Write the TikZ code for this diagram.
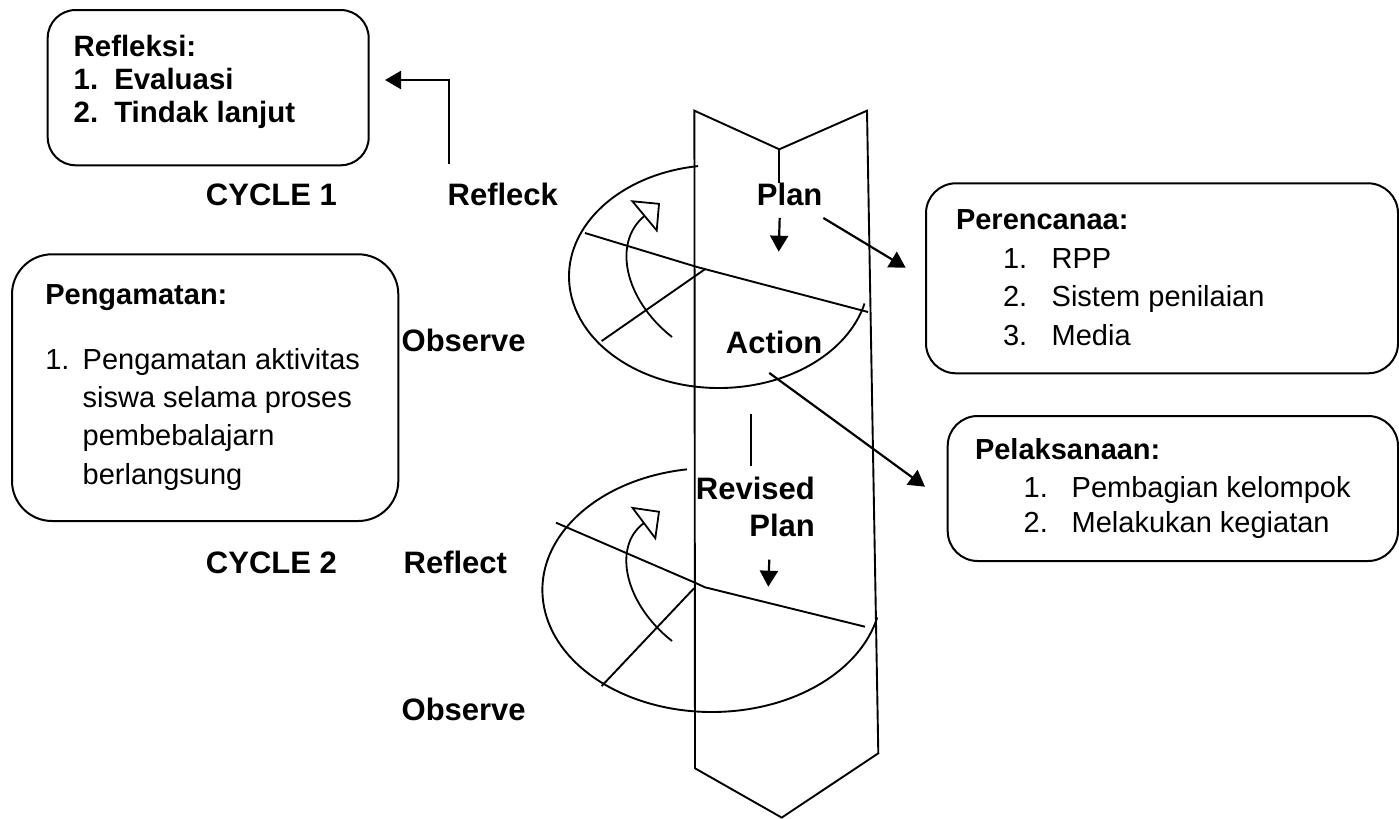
\documentclass[tikz,border=0pt]{standalone}
\usepackage{fontspec}
\setmainfont{Liberation Sans}
\usetikzlibrary{arrows.meta}

\tikzset{
  lbl/.style={font=\fontsize{15.5pt}{18pt}\selectfont\bfseries, inner sep=0pt, anchor=base west},
  roundbox/.style={draw, line width=1pt, rounded corners=#1, anchor=north west, inner ysep=0pt},
  headarrow/.style={line width=1.1pt, -{Triangle[length=8pt,width=9pt]}},
  openhead/.style={line width=0.9pt, -{Triangle[open,length=10.5pt,width=21pt]}},
}

\begin{document}
\begin{tikzpicture}[line width=0.95pt]
    \useasboundingbox (0pt,0pt) rectangle (699.5pt,-409.5pt);
    % column
    \draw (347.2pt,-55.35pt) -- (389.65pt,-74.65pt) -- (433.5pt,-55.35pt) -- (439.15pt,-376.65pt) -- (390.85pt,-408.8pt) -- (347.5pt,-384.15pt) -- cycle;
    \draw (389.65pt,-74.65pt) -- (389.65pt,-91.65pt);
    % cycle 1
    \draw (359.5pt,-138.25pt) ++(98:75pt and 55.75pt) arc[start angle=98, end angle=346, x radius=75pt, y radius=55.75pt];
    \draw (292.5pt,-116.5pt) -- (348.5pt,-133.5pt) -- (434pt,-156pt);
    \draw (300.85pt,-170.5pt) -- (352.85pt,-134.35pt);
    \draw[openhead] (336pt,-168.5pt) .. controls (312.5pt,-150pt) and (306pt,-121.5pt) .. (330pt,-101.5pt);
    % cycle 2
    \draw (356pt,-295pt) ++(98.5:84.8pt and 61pt) arc[start angle=98.5, end angle=347, x radius=84.8pt, y radius=61pt];
    \draw (278pt,-261.35pt) -- (347.5pt,-291.35pt) -- (352.5pt,-293.65pt) -- (432.5pt,-313.35pt);
    \draw (300.85pt,-343pt) -- (347pt,-294.15pt);
    \draw[openhead] (336pt,-320.5pt) .. controls (312.5pt,-302pt) and (306pt,-273.5pt) .. (330pt,-255.5pt);
    \draw (375.35pt,-207.15pt) -- (375.35pt,-233pt);

    % labels
    \node[lbl] (cycle1) at (102.5pt,-102.5pt) {CYCLE 1};
    \node[lbl] (refleck) at (223.35pt,-102.5pt) {Refleck};
    \node[lbl] (plan) at (378pt,-102.85pt) {Plan};
    \node[lbl] (observe1) at (200.35pt,-175.85pt) {Observe};
    \node[lbl] (action) at (362.5pt,-176.65pt) {Action};
    \node[lbl] (cycle2) at (102.5pt,-286.65pt) {CYCLE 2};
    \node[lbl] (reflect) at (201.35pt,-286.65pt) {Reflect};
    \node[lbl] (revised) at (347.5pt,-249.65pt) {Revised};
    \node[lbl, anchor=base east] (revplan) at ([yshift=-18.7pt]revised.base east) {Plan};
    \node[lbl] (observe2) at (200.35pt,-360.35pt) {Observe};

    % boxes
    \node[roundbox=14pt, inner xsep=13pt] (refleksi) at (23.35pt,-4.5pt) {\parbox[t][77.65pt][t]{134.5pt}{\fontsize{14.7pt}{16.5pt}\selectfont\bfseries
        \rule{0pt}{23pt}Refleksi:\\
        \makebox[20.3pt][l]{1.}Evaluasi\\
        \makebox[20.3pt][l]{2.}Tindak lanjut}};
    \node[roundbox=20pt, inner xsep=16.65pt] (pengamatan) at (5.5pt,-126.65pt) {\parbox[t][133.35pt][t]{159.85pt}{\fontsize{14.5pt}{19.15pt}\selectfont
        \rule{0pt}{25pt}\textbf{Pengamatan:}\\[13.35pt]
        \makebox[18.7pt][l]{1.}Pengamatan aktivitas\\
        \hspace*{18.7pt}siswa selama proses\\
        \hspace*{18.7pt}pembebalajarn\\
        \hspace*{18.7pt}berlangsung}};
    \node[roundbox=15pt, inner xsep=15pt] (perencanaan) at (462.5pt,-91.15pt) {\parbox[t][95pt][t]{206pt}{\fontsize{14.5pt}{19.35pt}\selectfont
        \rule{0pt}{23pt}\textbf{Perencanaa:}\\
        \hspace*{23.5pt}\makebox[24.35pt][l]{1.}RPP\\
        \hspace*{23.5pt}\makebox[24.35pt][l]{2.}Sistem penilaian\\
        \hspace*{23.5pt}\makebox[24.35pt][l]{3.}Media}};
    \node[roundbox=15pt, inner xsep=13.65pt] (pelaksanaan) at (473.35pt,-207.5pt) {\parbox[t][72.5pt][t]{197.85pt}{\fontsize{14.5pt}{17.5pt}\selectfont
        \rule{0pt}{21.65pt}\textbf{Pelaksanaan:}\\[1.7pt]
        \hspace*{24.35pt}\makebox[24pt][l]{1.}Pembagian kelompok\\
        \hspace*{24.35pt}\makebox[24pt][l]{2.}Melakukan kegiatan}};

    % arrows
    \coordinate (refltip) at (192.5pt,-40pt);
    \coordinate (plantip) at (389.35pt,-125.85pt);
    \coordinate (perentip) at (452.85pt,-133.85pt);
    \coordinate (pelaktip) at (462.5pt,-243.35pt);
    \coordinate (revtip) at (384.15pt,-293.35pt);
    \draw[headarrow] ([xshift=1.3pt,yshift=8.7pt]refleck.north west) |- (refltip);
    \draw[headarrow] ([xshift=-5pt,yshift=-5.5pt]plan.south) -- (plantip);
    \draw[headarrow] ([yshift=-5.5pt]plan.south east) -- (perentip);
    \draw[headarrow] ([xshift=-2.45pt,yshift=-9.2pt]action.south) -- (pelaktip);
    \draw[headarrow] ([xshift=-6.4pt,yshift=-10.8pt]revplan.south) -- (revtip);
\end{tikzpicture}
\end{document}
